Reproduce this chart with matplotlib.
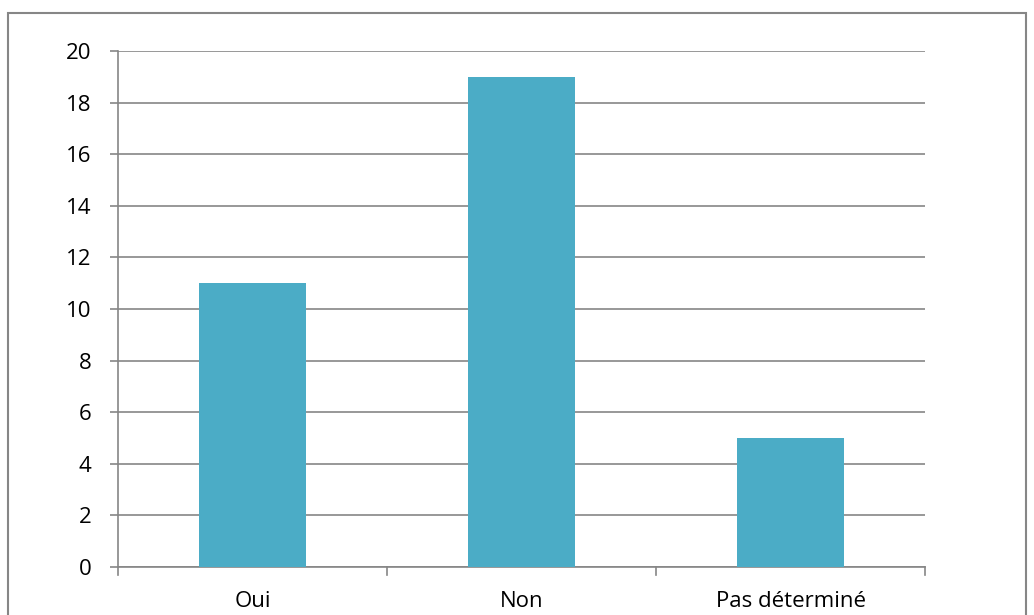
import matplotlib.pyplot as plt
from matplotlib.patches import Rectangle

categories = ["Oui", "Non", "Pas déterminé"]
values = [11, 19, 5]
y_ticks = [0, 2, 4, 6, 8, 10, 12, 14, 16, 18, 20]

plt.rcParams['font.family'] = ['Open Sans', 'DejaVu Sans']

fig = plt.figure(figsize=(10.34, 6.15), dpi=100)
W, H = 1034, 615
ax = fig.add_axes([118 / W, 1 - 567 / H, (925 - 118) / W, (567 - 51) / H])

grid_col = "#868686"
ax.bar(range(len(categories)), values, width=0.4, color="#4BACC6", zorder=3)
ax.set_xlim(-0.5, len(categories) - 0.5)
ax.set_ylim(0, 20)
ax.set_yticks(y_ticks)
ax.set_xticks(range(len(categories)))
ax.set_xticklabels(categories)
ax.yaxis.grid(True, color=grid_col, linewidth=1.2, zorder=0)

for s in ["top", "right"]:
    ax.spines[s].set_visible(False)
for s in ["left", "bottom"]:
    ax.spines[s].set_color(grid_col)
    ax.spines[s].set_linewidth(1.2)

# y ticks outside, category separators below
ax.tick_params(axis="y", length=6, width=1.2, color=grid_col, labelsize=16, pad=13)
ax.tick_params(axis="x", length=0, labelsize=16, pad=17)
for xb in [-0.5, 0.5, 1.5, 2.5]:
    ax.plot([xb, xb], [0, -0.3], color=grid_col, linewidth=1.2, clip_on=False, zorder=4)

# outer chart border
fig.patches.append(Rectangle((8 / W, -0.1), (1026 - 8) / W, 1 - 13 / H + 0.1,
                             transform=fig.transFigure, fill=False,
                             edgecolor=grid_col, linewidth=1.5))

fig.savefig("out.png", dpi=100)
